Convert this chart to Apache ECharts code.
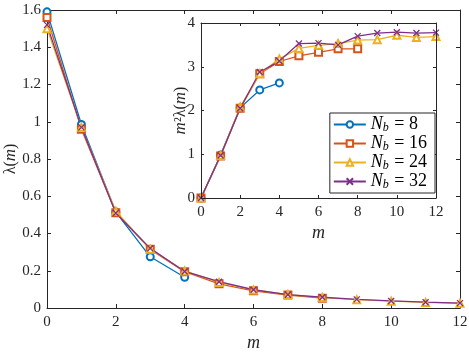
<!DOCTYPE html>
<html>
<head>
<meta charset="utf-8">
<script src="https://cdn.jsdelivr.net/npm/echarts@6/dist/echarts.min.js"></script>
<style>
html, body { margin: 0; padding: 0; background: #fff; }
#chart { width: 469px; height: 353px; }
</style>
</head>
<body>
<div id="chart"></div>
<script>
// m values 0..12
const mValues = [0, 1, 2, 3, 4, 5, 6, 7, 8, 9, 10, 11, 12];
const seriesNames = ['8', '16', '24', '32'];

// main plot: lambda(m)
const lambdaN8 = [1.59, 0.985, 0.515, 0.275, 0.165];
const lambdaN16 = [1.56, 0.96, 0.512, 0.315, 0.195, 0.13, 0.0925, 0.0695, 0.053];
const lambdaN24 = [1.50, 0.97, 0.52, 0.316, 0.199, 0.137, 0.097, 0.072, 0.056, 0.0447, 0.0367, 0.0302, 0.0256];
const lambdaN32 = [1.52, 0.97, 0.51, 0.32, 0.196, 0.141, 0.098, 0.0714, 0.0578, 0.0465, 0.0379, 0.0312, 0.0262];

// inset: m^2 lambda(m)
const scaledN8 = [0, 0.985, 2.06, 2.47, 2.63];
const scaledN16 = [0, 0.96, 2.05, 2.84, 3.12, 3.25, 3.33, 3.41, 3.41];
const scaledN24 = [0, 0.97, 2.08, 2.84, 3.18, 3.42, 3.49, 3.53, 3.61, 3.62, 3.72, 3.67, 3.69];
const scaledN32 = [0, 0.97, 2.05, 2.88, 3.13, 3.53, 3.54, 3.50, 3.70, 3.77, 3.79, 3.77, 3.78];

const colors = ['#0072BD', '#D95319', '#EDB120', '#7E2F8E'];
const symbols = ['emptyCircle', 'emptyRect', 'emptyTriangle', 'path://M0,0L10,10M10,0L0,10'];
const font = 'Liberation Serif';
const axisColor = '#262626';

function pairs(vals) {
  return vals.map((v, i) => [mValues[i], v]);
}

const nameRich = {
  i: { fontFamily: font, fontStyle: 'italic', fontSize: 17, color: '#262626' },
  r: { fontFamily: font, fontSize: 16, color: '#262626' }
};

function xAx(grid, pos, labels, nameTxt) {
  return {
    type: 'value', gridIndex: grid, position: pos, min: 0, max: 12, interval: 2,
    z: grid === 0 ? 1 : 12,
    axisLine: { show: true, onZero: false, lineStyle: { color: axisColor, width: 1 } },
    axisTick: { show: true, inside: true, length: grid === 0 ? 4 : 3, lineStyle: { color: axisColor } },
    axisLabel: { show: labels, color: '#262626', fontFamily: font, fontSize: 15, margin: 7 },
    splitLine: { show: false },
    name: nameTxt || '', nameLocation: 'middle', nameGap: 26, nameMoveOverlap: false,
    nameTextStyle: { fontFamily: font, fontStyle: 'italic', fontSize: 18, color: '#262626' }
  };
}

function yAx(grid, pos, labels, max, interval, nameTxt) {
  return {
    type: 'value', gridIndex: grid, position: pos, min: 0, max: max, interval: interval,
    z: grid === 0 ? 1 : 12,
    axisLine: { show: true, onZero: false, lineStyle: { color: axisColor, width: 1 } },
    axisTick: { show: true, inside: true, length: grid === 0 ? 4 : 3, lineStyle: { color: axisColor } },
    axisLabel: {
      show: labels, color: '#262626', fontFamily: font, fontSize: 15, margin: 6,
      formatter: v => String(parseFloat(v.toFixed(1)))
    },
    splitLine: { show: false },
    name: nameTxt || '', nameLocation: 'middle', nameRotate: 90,
    nameGap: grid === 0 ? 28 : 12, nameMoveOverlap: false,
    nameTextStyle: { fontFamily: font, fontSize: 16, color: '#262626', rich: nameRich }
  };
}

const mainData = [lambdaN8, lambdaN16, lambdaN24, lambdaN32];
const insetData = [scaledN8, scaledN16, scaledN24, scaledN32];

const series = [];
[0, 2].forEach(axisIdx => {
  const src = axisIdx === 0 ? mainData : insetData;
  src.forEach((vals, k) => {
    const isX = k === 3;
    series.push({
      name: seriesNames[k],
      type: 'line',
      xAxisIndex: axisIdx,
      yAxisIndex: axisIdx,
      data: pairs(vals),
      symbol: symbols[k],
      symbolSize: isX ? 6 : 7,
      showAllSymbol: true,
      color: colors[k],
      lineStyle: { color: colors[k], width: 1.3 },
      itemStyle: isX ? { color: 'none', borderColor: colors[k], borderWidth: 1.3 }
                     : { color: colors[k], borderColor: colors[k], borderWidth: 1.3 },
      emphasis: { disabled: true },
      animation: false,
      z: axisIdx === 0 ? 2 : 10
    });
  });
});

const chart = echarts.init(document.getElementById('chart'), null, { renderer: 'canvas' });
chart.setOption({
  animation: false,
  backgroundColor: '#fff',
  textStyle: { fontFamily: font },
  grid: [
    { left: 47, top: 10, width: 413, height: 298, outerBoundsMode: 'none' },
    { left: 201, top: 23, width: 235, height: 175, outerBoundsMode: 'none',
      show: true, backgroundColor: '#fff', borderWidth: 0, z: 5 }
  ],
  xAxis: [
    xAx(0, 'bottom', true, 'm'),
    xAx(0, 'top', false),
    xAx(1, 'bottom', true, 'm'),
    xAx(1, 'top', false)
  ],
  yAxis: [
    yAx(0, 'left', true, 1.6, 0.2, '{r|λ(}{i|m}{r|)}'),
    yAx(0, 'right', false, 1.6, 0.2),
    yAx(1, 'left', true, 4, 1, '{i|m}{r|²λ(}{i|m}{r|)}'),
    yAx(1, 'right', false, 4, 1)
  ],
  legend: {
    orient: 'vertical',
    right: 34, top: 113,
    itemWidth: 32, itemHeight: 8, itemGap: 0,
    backgroundColor: '#fff',
    borderColor: '#262626', borderWidth: 1, borderRadius: 0,
    padding: [2, 8, 2, 3],
    z: 20,
    data: seriesNames,
    formatter: n => '{n|N}{b|b}{t| = ' + n + '}',
    textStyle: {
      fontFamily: font, fontSize: 18, color: '#000',
      rich: {
        n: { fontFamily: font, fontStyle: 'italic', fontSize: 18, color: '#000', lineHeight: 12 },
        b: { fontFamily: font, fontStyle: 'italic', fontSize: 12, color: '#000', padding: [7, 1, 0, 0], lineHeight: 12 },
        t: { fontFamily: font, fontSize: 18, color: '#000', lineHeight: 12 }
      }
    }
  },
  series: series
});
</script>
</body>
</html>
